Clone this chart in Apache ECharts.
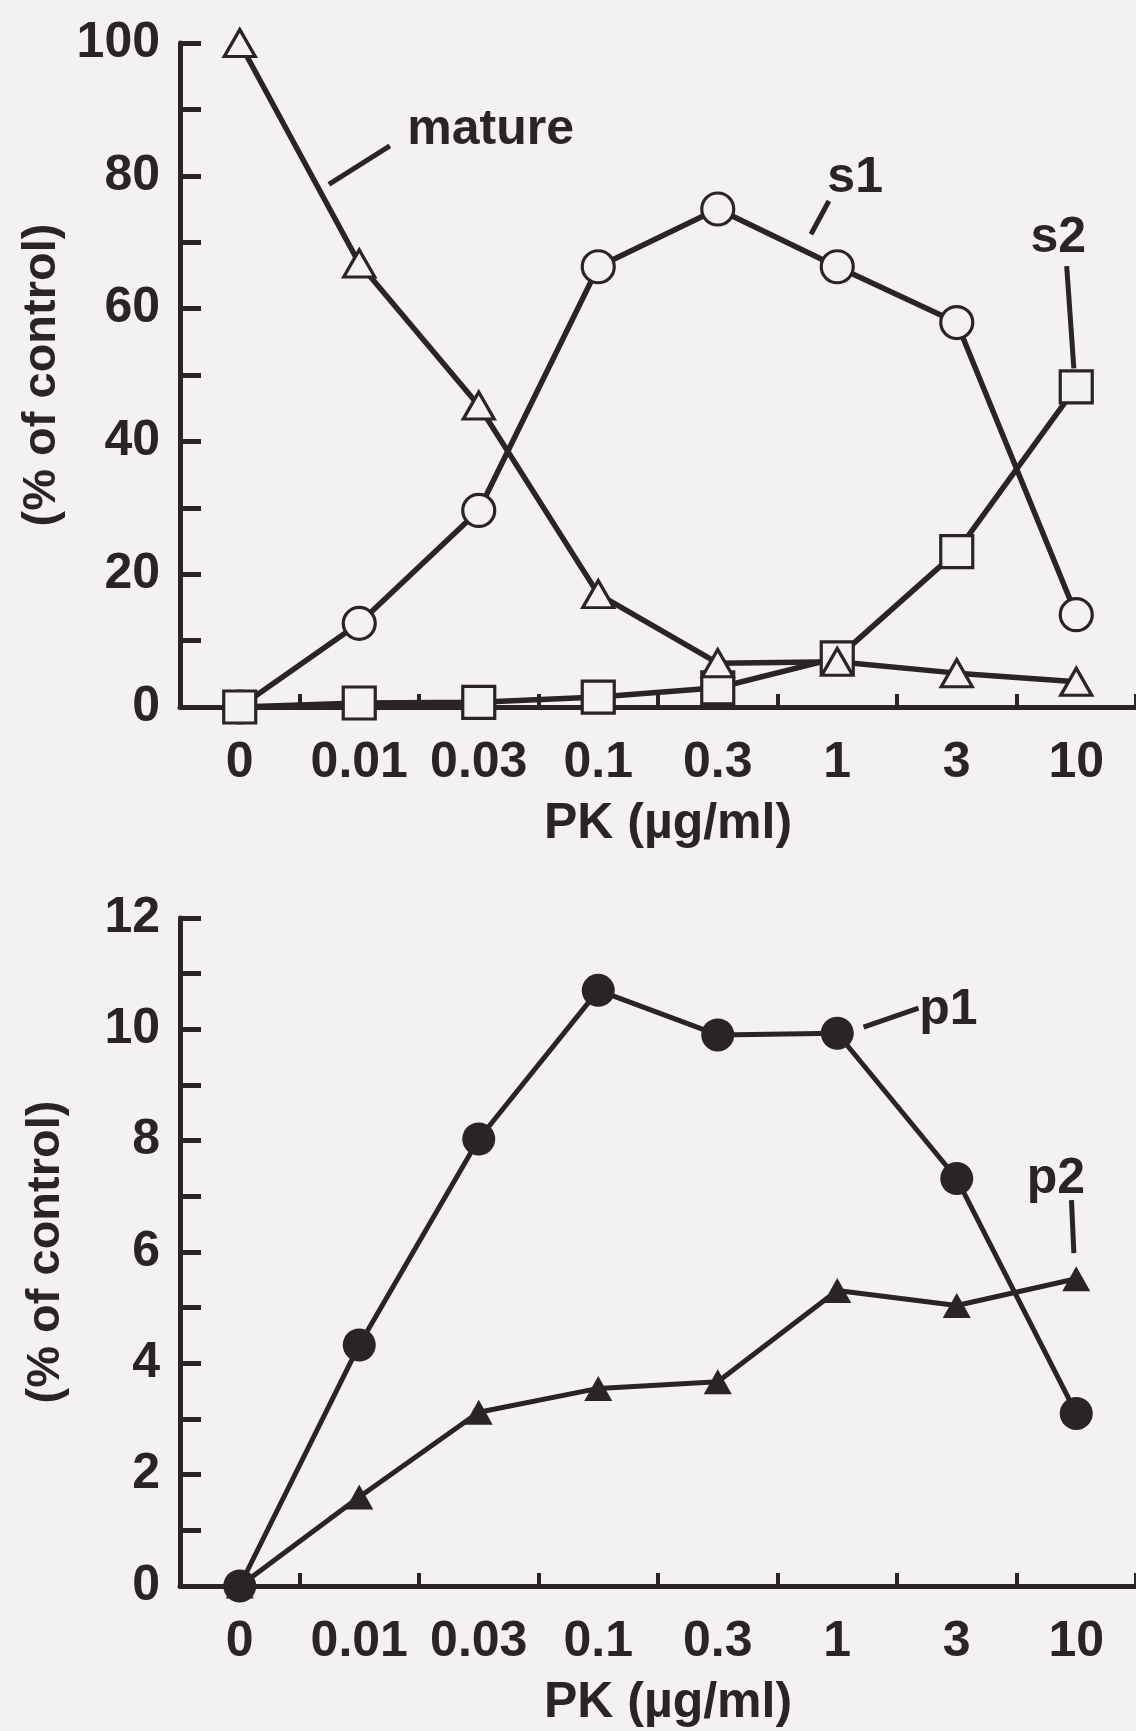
<!DOCTYPE html>
<html><head><meta charset="utf-8">
<script src="https://cdn.jsdelivr.net/npm/echarts@6/dist/echarts.min.js"></script>
<style>html,body{margin:0;padding:0;background:#f3f1f2}#c{width:1136px;height:1731px}</style>
</head><body><div id="c"></div>
<script>
// ---- data ----
const categories = ['0', '0.01', '0.03', '0.1', '0.3', '1', '3', '10'];
const mature = [100, 66.8, 45.4, 17.0, 6.6, 6.8, 5.1, 3.8];
const s1 = [0, 12.6, 29.6, 66.3, 75.0, 66.3, 57.9, 13.9];
const s2 = [0, 0.6, 0.7, 1.5, 2.9, 7.4, 23.4, 48.2];
const p1 = [0, 4.33, 8.03, 10.7, 9.9, 9.93, 7.32, 3.1];
const p2 = [0, 1.6, 3.12, 3.55, 3.67, 5.31, 5.04, 5.52];
const xTitle = 'PK (\u00b5g/ml)';
const yTitle = '(% of control)';
// annotations: text anchor and leader line in data space (category index, value)
const topNotes = [
  { text: 'mature', at: [2.10, 86.9], line: [[0.746, 78.7], [1.256, 84.5]] },
  { text: 's1', at: [5.15, 79.6], line: [[4.93, 76.2], [4.78, 71.2]] },
  { text: 's2', at: [6.85, 70.6], line: [[6.92, 66.4], [6.98, 51.0]] }
];
const bottomNotes = [
  { text: 'p1', at: [5.93, 10.35], line: [[5.22, 10.04], [5.68, 10.38]] },
  { text: 'p2', at: [6.83, 7.30], line: [[6.96, 6.93], [6.98, 5.98]] }
];

// ---- style ----
const ink = '#2a2327';
const bg = '#f3f1f2';
const FONT = '"Liberation Sans", Arial, Helvetica, sans-serif';
const FS = 50;
const txt = { color: ink, fontFamily: FONT, fontWeight: 'bold', fontSize: FS };

function xAxisCfg(gi) {
  return {
    type: 'category', gridIndex: gi, data: categories, boundaryGap: true,
    axisLine: { show: true, lineStyle: { color: ink, width: 5 } },
    axisTick: { show: true, inside: true, length: 13, lineStyle: { color: ink, width: 4 } },
    axisLabel: Object.assign({ margin: 31, interval: 0 }, txt),
    splitLine: { show: false },
    name: xTitle, nameLocation: 'middle', nameGap: 92,
    nameTextStyle: Object.assign({ padding: [0, 0, 0, 20] }, txt)
  };
}
function yAxisCfg(gi, max, interval) {
  return {
    type: 'value', gridIndex: gi, min: 0, max: max, interval: interval,
    axisLine: { show: true, lineStyle: { color: ink, width: 5 } },
    axisTick: { show: true, inside: true, length: 21, lineStyle: { color: ink, width: 5 } },
    minorTick: { show: true, splitNumber: 2, length: 21, lineStyle: { color: ink, width: 5 } },
    axisLabel: Object.assign({ margin: 20 }, txt),
    splitLine: { show: false }, minorSplitLine: { show: false },
    name: yTitle, nameLocation: 'middle', nameRotate: 90, nameGap: 110,
    nameTextStyle: Object.assign({}, txt, { fontSize: 47 })
  };
}
function lineSeries(gi, data, symbol, size, filled, width) {
  return {
    type: 'line', xAxisIndex: gi, yAxisIndex: gi, data: data,
    symbol: symbol, symbolSize: size, showSymbol: true, silent: true,
    lineStyle: { color: ink, width: width },
    itemStyle: filled ? { color: ink, borderColor: ink, borderWidth: 0 }
                      : { color: bg, borderColor: ink, borderWidth: 3.2 },
    emphasis: { disabled: true }
  };
}

const chart = echarts.init(document.getElementById('c'), null, { renderer: 'canvas' });
chart.setOption({
  backgroundColor: bg,
  animation: false,
  grid: [
    { left: 180, right: 0, top: 43, height: 664 },
    { left: 180, right: 0, top: 918, height: 668 }
  ],
  xAxis: [xAxisCfg(0), xAxisCfg(1)],
  yAxis: [yAxisCfg(0, 100, 20), yAxisCfg(1, 12, 2)],
  series: [
    lineSeries(0, s1, 'circle', 32, false, 5.5),
    lineSeries(0, s2, 'rect', 32, false, 5.5),
    lineSeries(0, mature, 'triangle', [31, 27], false, 5.5),
    lineSeries(1, p1, 'circle', 33, true, 5),
    lineSeries(1, p2, 'triangle', [28, 25], true, 5)
  ]
});

// annotations anchored in data space (category index interpolated linearly)
function toPx(gi, i, v) {
  const a = chart.convertToPixel({ xAxisIndex: gi, yAxisIndex: gi }, [0, v]);
  const b = chart.convertToPixel({ xAxisIndex: gi, yAxisIndex: gi }, [categories.length - 1, v]);
  return [a[0] + i * (b[0] - a[0]) / (categories.length - 1), a[1]];
}
const graphics = [];
[[0, topNotes], [1, bottomNotes]].forEach(([gi, notes]) => {
  notes.forEach(n => {
    const p = toPx(gi, n.at[0], n.at[1]);
    graphics.push({
      type: 'text', x: p[0], y: p[1], silent: true,
      style: { text: n.text, fill: ink, font: 'bold ' + FS + 'px ' + FONT, align: 'center', verticalAlign: 'middle' }
    });
    const a = toPx(gi, n.line[0][0], n.line[0][1]);
    const b = toPx(gi, n.line[1][0], n.line[1][1]);
    graphics.push({
      type: 'line', silent: true,
      shape: { x1: a[0], y1: a[1], x2: b[0], y2: b[1] },
      style: { stroke: ink, lineWidth: 5 }
    });
  });
});
chart.setOption({ graphic: graphics });
</script></body></html>
